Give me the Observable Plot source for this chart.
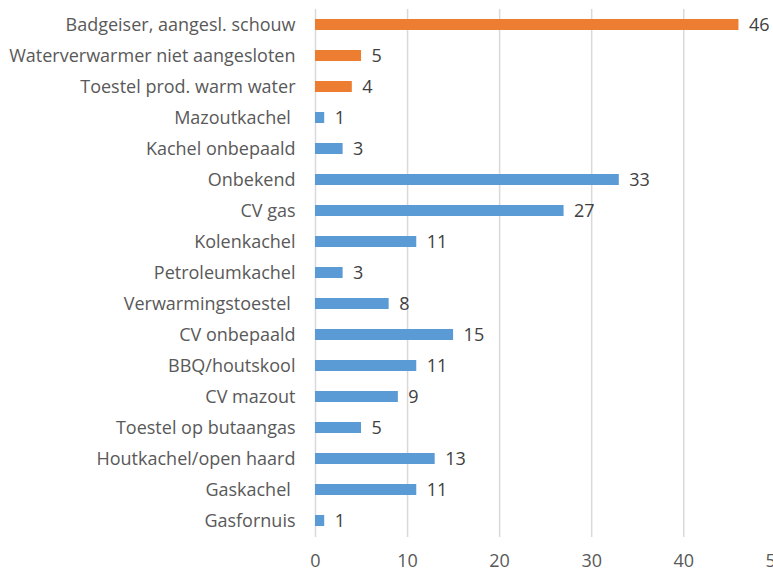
<!DOCTYPE html>
<html>
<head>
<meta charset="utf-8">
<script src="https://cdn.jsdelivr.net/npm/d3@7"></script>
<script src="https://cdn.jsdelivr.net/npm/@observablehq/plot@0.6"></script>
<style>
  html, body { margin: 0; padding: 0; background: #fff; overflow: hidden; }
  #chart svg { display: block; overflow: visible; max-width: none !important; }
  #chart text { white-space: pre; }
</style>
</head>
<body>
<div id="chart"></div>
<script>
const categories = [
  "Badgeiser, aangesl. schouw",
  "Waterverwarmer niet aangesloten",
  "Toestel prod. warm water",
  "Mazoutkachel ",
  "Kachel onbepaald",
  "Onbekend",
  "CV gas",
  "Kolenkachel",
  "Petroleumkachel",
  "Verwarmingstoestel ",
  "CV onbepaald",
  "BBQ/houtskool",
  "CV mazout",
  "Toestel op butaangas",
  "Houtkachel/open haard",
  "Gaskachel ",
  "Gasfornuis"
];
const values = [46, 5, 4, 1, 3, 33, 27, 11, 3, 8, 15, 11, 9, 5, 13, 11, 1];
const groups = ["warm water", "warm water", "warm water", "verwarming", "verwarming", "verwarming", "verwarming", "verwarming", "verwarming", "verwarming", "verwarming", "verwarming", "verwarming", "verwarming", "verwarming", "verwarming", "verwarming"];
const xTicks = [0, 10, 20, 30, 40, 50];

const data = categories.map((c, i) => ({category: c, value: values[i], group: groups[i]}));

const chart = Plot.plot({
  width: 800,
  height: 572,
  marginLeft: 315,
  marginRight: 24.7,
  marginTop: 9,
  marginBottom: 35,
  style: {fontFamily: "'Open Sans', sans-serif", fontSize: "18px", color: "#595959", background: "#fff", maxWidth: "none"},
  x: {domain: [0, 50], ticks: xTicks, tickSize: 0, tickPadding: 16.5, label: null},
  y: {domain: categories, tickSize: 0, tickPadding: 20, label: null, paddingInner: 0.635, paddingOuter: 0.3175},
  color: {domain: ["warm water", "verwarming"], range: ["#ED7D31", "#5B9BD5"]},
  marks: [
    Plot.ruleX(xTicks, {stroke: "#d9d9d9", strokeWidth: 1.5, strokeOpacity: 1}),
    Plot.barX(data, {x: "value", y: "category", fill: "group"}),
    Plot.text(data, {x: "value", y: "category", text: d => String(d.value), textAnchor: "start", dx: 10, fill: "#404040", fontSize: 18})
  ]
});
document.getElementById("chart").appendChild(chart);
</script>
</body>
</html>
